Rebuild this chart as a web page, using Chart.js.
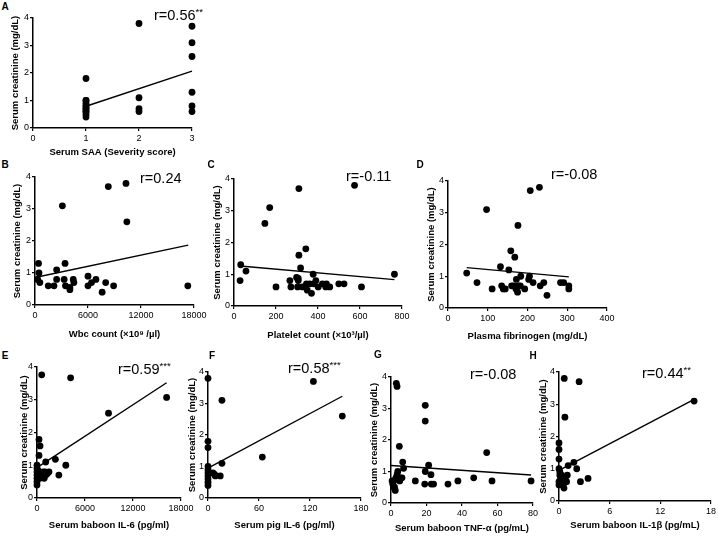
<!DOCTYPE html>
<html><head><meta charset="utf-8">
<script src="https://cdn.jsdelivr.net/npm/chart.js@4.4.1/dist/chart.umd.min.js"></script>
<style>
html,body{margin:0;padding:0;background:#fff;}
body{width:718px;height:537px;position:relative;overflow:hidden;font-family:'Liberation Sans',Arial,sans-serif;color:#000;}
canvas{position:absolute;}
.lbl{position:absolute;font-weight:bold;font-size:10px;line-height:1;transform:translate(-50%,-50%);}
.r{position:absolute;font-size:14.5px;line-height:1;transform:translateY(-50%);white-space:nowrap;}
.r sup{font-size:9.5px;vertical-align:5px;line-height:0;}
</style></head><body>
<script>
// ---------- data ----------
const yTicks = [0,1,2,3,4];
const A_x = [1,1,1,1,1,1,1,1,1,1,1,1, 2,2,2,2, 3,3,3,3,3,3];
const A_y = [1.8,1.0,1.0,0.9,0.8,0.8,0.7,0.7,0.6,0.6,0.5,0.4, 3.8,1.1,0.7,0.6, 3.7,3.1,2.6,1.3,0.8,0.6];
const A_fit_x = [1,3], A_fit_y = [0.79,2.07];
const A_xticks = [0,1,2,3];

const B_x = [3100,8300,10300,10400,400,450,300,550,2450,2450,1500,2150,3400,3300,3450,3950,3950,4330,4400,6000,6000,6400,6900,7600,8000,8900,17300];
const B_y = [3.1,3.7,3.8,2.6,1.3,1.0,0.8,0.7,1.1,0.8,0.6,0.6,1.3,0.8,0.6,0.55,0.48,0.8,0.7,0.9,0.6,0.7,0.8,0.4,0.7,0.6,0.6];
const B_fit_x = [0,17350], B_fit_y = [0.86,1.87];
const B_xticks = [0,6000,12000,18000];

const C_x = [309,574,170,147,342,309,32,57,317,29,200,266,271,298,306,303,326,345,349,369,361,377,380,390,401,421,440,437,456,499,524,607,764,306];
const C_y = [3.7,3.8,3.1,2.6,1.8,1.6,1.3,1.1,1.2,0.8,0.6,0.8,0.6,0.9,0.8,0.6,0.6,0.7,0.5,0.4,0.7,1.0,0.7,0.8,0.6,0.7,0.7,0.6,0.6,0.7,0.7,0.6,1.0,0.87];
const C_fit_x = [29,764], C_fit_y = [1.26,0.83];
const C_xticks = [0,200,400,600,800];

const D_x = [207,230,97,176,158,168,132,153,47,73,111,135,139,144,160,165,171,175,177,182,172,183,193,203,205,214,232,241,249,283,291,304,304];
const D_y = [3.7,3.8,3.1,2.6,1.8,1.6,1.3,1.2,1.1,0.8,0.6,0.7,0.6,0.6,0.7,0.7,0.6,0.5,0.7,0.7,0.9,1.0,0.6,0.9,1.0,0.8,0.7,0.8,0.4,0.8,0.8,0.7,0.6];
const D_fit_x = [47,304], D_fit_y = [1.27,0.98];
const D_xticks = [0,100,200,300,400];

const E_x = [590,4200,16200,8940,250,380,250,1090,2300,3600,2730,0,0,0,0,0,0,0,100,150,250,350,450,600,750,900,1100,1300,1500,1000];
const E_y = [3.76,3.67,3.07,2.59,1.79,1.59,1.3,1.1,1.18,1.0,0.7,1.0,0.9,0.8,0.7,0.6,0.5,0.4,0.85,0.65,0.75,0.6,0.7,0.65,0.8,0.6,0.7,0.75,0.8,0.8];
const E_fit_x = [0,16200], E_fit_y = [0.93,3.52];
const E_xticks = [0,6000,12000,18000];

const F_x = [0,0,0,0,0,0,0,0,0,0,16.4,16.4,5.8,7.8,8.6,14.4,63.9,124,158];
const F_y = [3.8,1.8,1.6,1.0,0.9,0.8,0.7,0.6,0.5,0.4,3.1,1.1,0.8,0.75,0.7,0.7,1.3,3.7,2.6];
const F_fit_x = [0,158], F_fit_y = [0.95,3.23];
const F_xticks = [0,60,120,180];

const G_x = [3.0,3.4,19.3,19.3,4.7,6.6,7.1,19.3,21.2,22.5,53.9,13.7,19.0,22.7,24.0,32.1,37.7,46.6,56.9,78.9,1,1.5,2,2.4,2.8,3.4,3.8,4.3,4.9,5.3,6.2,1.5,0.6];
const G_y = [3.8,3.7,3.1,2.6,1.8,1.3,1.1,1.0,1.2,0.9,1.6,0.7,0.6,0.6,0.6,0.6,0.7,0.8,0.7,0.7,0.6,0.7,0.5,0.4,0.8,0.9,1.0,0.8,0.7,0.8,0.8,0.5,0.7];
const G_fit_x = [0,78.9], G_fit_y = [1.19,0.89];
const G_xticks = [0,20,40,60,80];

const H_x = [0.62,2.38,0.70,16.0,0,0,0,0,1.76,1.09,2.1,0.98,3.44,2.54,0.9,0.59,0.1,0.2,0.3,0.4,0.5,0,0,0.4,0.7,0.1];
const H_y = [3.8,3.7,2.6,3.1,1.8,1.6,1.3,1.0,1.2,1.1,1.0,0.8,0.7,0.6,0.6,0.4,0.9,0.7,0.8,0.6,0.5,0.6,0.5,0.75,0.7,0.8];
const H_fit_x = [0,16], H_fit_y = [0.95,3.15];
const H_xticks = [0,6,12,18];

const yTitle = 'Serum creatinine (mg/dL)';
const xTitles = {
  A:'Serum SAA (Severity score)', B:'Wbc count (\u00d710\u2079 /\u00b5l)', C:'Platelet count (\u00d710\u00b3/\u00b5l)',
  D:'Plasma fibrinogen (mg/dL)', E:'Serum baboon IL-6 (pg/ml)', F:'Serum pig IL-6 (pg/ml)',
  G:'Serum baboon TNF-\u03b1 (pg/mL)', H:'Serum baboon IL-1\u03b2 (pg/mL)'
};
const rLabels = {A:['r=0.56','**'],B:['r=0.24',''],C:['r=-0.11',''],D:['r=-0.08',''],
  E:['r=0.59','***'],F:['r=0.58','***'],G:['r=-0.08',''],H:['r=0.44','**']};

// ---------- layout ----------
const panels = [
 {id:'A', xs:A_x, ys:A_y, fx:A_fit_x, fy:A_fit_y, xt:A_xticks, left:10, L:33, R:192, T:18, B:128, Hx:30, padR:16, letter:[5,7], r:[154,15]},
 {id:'B', xs:B_x, ys:B_y, fx:B_fit_x, fy:B_fit_y, xt:B_xticks, left:12, L:35, R:194, T:177, B:305, Hx:35, padR:16, letter:[5,165], r:[140,178]},
 {id:'C', xs:C_x, ys:C_y, fx:C_fit_x, fy:C_fit_y, xt:C_xticks, left:212, L:234, R:402, T:179, B:306, Hx:35, padR:16, letter:[211,165], r:[346,176]},
 {id:'D', xs:D_x, ys:D_y, fx:D_fit_x, fy:D_fit_y, xt:D_xticks, left:426, L:448, R:607, T:181, B:308, Hx:34, padR:16, letter:[420,165], r:[551,174]},
 {id:'E', xs:E_x, ys:E_y, fx:E_fit_x, fy:E_fit_y, xt:E_xticks, left:19, L:37, R:181, T:367, B:498, Hx:33, padR:16, letter:[5,356], r:[118,369]},
 {id:'F', xs:F_x, ys:F_y, fx:F_fit_x, fy:F_fit_y, xt:F_xticks, left:187, L:208, R:361, T:372, B:498, Hx:33, padR:16, letter:[212,356], r:[288,368]},
 {id:'G', xs:G_x, ys:G_y, fx:G_fit_x, fy:G_fit_y, xt:G_xticks, left:369, L:391, R:533, T:377, B:503, Hx:31, padR:14, letter:[378,355], r:[470,374]},
 {id:'H', xs:H_x, ys:H_y, fx:H_fit_x, fy:H_fit_y, xt:H_xticks, left:538, L:559, R:713, T:372, B:501, Hx:30, padR:5, letter:[533,356], r:[642,373]},
];

const PADT = 8;
const tickFont = {family:"'Liberation Sans', Arial, sans-serif", size:9};
const titleFont = {family:"'Liberation Sans', Arial, sans-serif", size:9.5, weight:'bold', lineHeight:1.2};

panels.forEach(p => {
  const Wy = p.L - p.left;
  const w = Wy + (p.R - p.L) + p.padR;
  const h = PADT + (p.B - p.T) + p.Hx;
  const cv = document.createElement('canvas');
  cv.width = w; cv.height = h;
  cv.style.left = p.left + 'px'; cv.style.top = (p.T - PADT) + 'px';
  cv.style.width = w + 'px'; cv.style.height = h + 'px';
  document.body.appendChild(cv);

  const lt = document.createElement('div');
  lt.className = 'lbl'; lt.textContent = p.id;
  lt.style.left = p.letter[0] + 'px'; lt.style.top = p.letter[1] + 'px';
  document.body.appendChild(lt);

  const rl = document.createElement('div');
  rl.className = 'r';
  rl.innerHTML = rLabels[p.id][0] + (rLabels[p.id][1] ? '<sup>' + rLabels[p.id][1] + '</sup>' : '');
  rl.style.left = p.r[0] + 'px'; rl.style.top = p.r[1] + 'px';
  document.body.appendChild(rl);

  const xMax = p.xt[p.xt.length - 1];
  const xStep = p.xt[1] - p.xt[0];
  new Chart(cv, {
    type: 'scatter',
    data: {
      datasets: [
        {data: p.xs.map((x,i)=>({x:x, y:p.ys[i]})), pointRadius:3.4, pointHoverRadius:3.4,
         backgroundColor:'#000', borderColor:'#000', borderWidth:0, clip:false},
        {data: p.fx.map((x,i)=>({x:x, y:p.fy[i]})), showLine:true, pointRadius:0,
         borderColor:'#000', borderWidth:1.4, clip:false}
      ]
    },
    options: {
      responsive:false, animation:false, devicePixelRatio:1,
      layout:{padding:{left:0, top:PADT, right:p.padR, bottom:0}},
      plugins:{legend:{display:false}, tooltip:{enabled:false}},
      scales:{
        x:{type:'linear', min:0, max:xMax,
           ticks:{stepSize:xStep, autoSkip:false, maxRotation:0, color:'#000', font:tickFont, padding:2,
                  callback:v=>String(v)},
           grid:{drawOnChartArea:false, drawTicks:true, tickLength:3, color:'#000', lineWidth:1.2},
           border:{display:true, color:'#000', width:1.5},
           title:{display:true, text:xTitles[p.id], color:'#000', font:titleFont, padding:0},
           afterFit:s=>{s.height = p.Hx;}},
        y:{type:'linear', min:0, max:4,
           ticks:{stepSize:1, autoSkip:false, color:'#000', font:tickFont, padding:1,
                  callback:v=>String(v)},
           grid:{drawOnChartArea:false, drawTicks:true, tickLength:3, color:'#000', lineWidth:1.2},
           border:{display:true, color:'#000', width:1.5},
           title:{display:true, text:yTitle, color:'#000', font:titleFont, padding:0},
           afterFit:s=>{s.width = Wy;}}
      }
    }
  });
});
</script>
</body></html>
